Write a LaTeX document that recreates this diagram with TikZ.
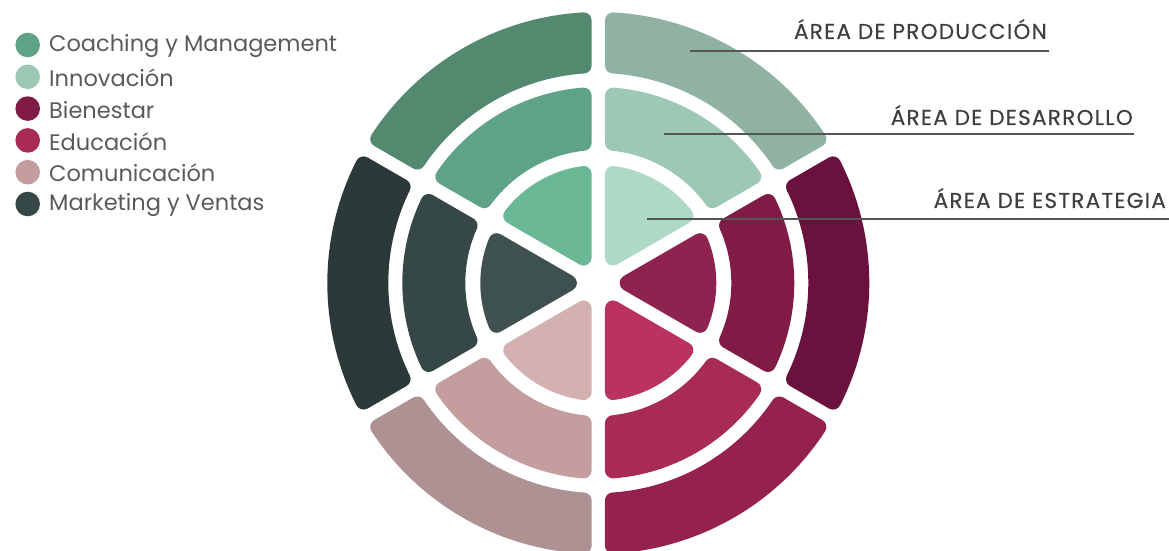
\documentclass[tikz,border=0pt]{standalone}
\usepackage{fontspec}
\setmainfont{Poppins}
\definecolor{cgA}{HTML}{6AB896}\definecolor{cgB}{HTML}{5FA386}\definecolor{cgC}{HTML}{538A6F}
\definecolor{inA}{HTML}{AED9C7}\definecolor{inB}{HTML}{9EC8B6}\definecolor{inC}{HTML}{8FB2A3}
\definecolor{biA}{HTML}{8F2350}\definecolor{biB}{HTML}{801B45}\definecolor{biC}{HTML}{6A123D}
\definecolor{edA}{HTML}{BA3262}\definecolor{edB}{HTML}{A72B53}\definecolor{edC}{HTML}{95224E}
\definecolor{coA}{HTML}{D4B1B1}\definecolor{coB}{HTML}{C49E9F}\definecolor{coC}{HTML}{AE9193}
\definecolor{mkA}{HTML}{3F514E}\definecolor{mkB}{HTML}{364846}\definecolor{mkC}{HTML}{2B3938}
\definecolor{legtext}{HTML}{5A5A5A}
\definecolor{labtext}{HTML}{3E3E3E}
\definecolor{labline}{HTML}{555555}
\begin{document}
\begin{tikzpicture}[x=1pt,y=1pt,
  piece/.style={line width=16pt, line join=round},
  legdot/.style={circle, inner sep=0pt, minimum size=24.6pt},
  legtxt/.style={anchor=west, inner sep=0pt, text=legtext, font=\fontsize{22.5}{26}\selectfont},
  areatxt/.style={anchor=base east, inner sep=0pt, text=labtext, font=\fontsize{21.5}{24}\selectfont\addfontfeatures{LetterSpace=6,FakeBold=0.4}},
  arealine/.style={draw=labline, line width=2pt}]
\useasboundingbox (0,0) rectangle (1169,551);
\def\cr{8}
\pgfmathsetmacro\dd{6.65+\cr}
\begin{scope}[shift={(598.3,268)}]
\foreach \phi/\ca/\cb/\cc in {120/cgA/cgB/cgC, 60/inA/inB/inC, 0/biA/biB/biC, -60/edA/edB/edC, -120/coA/coB/coC, 180/mkA/mkB/mkC} {
  \pgfmathsetmacro\ro{118-\cr}
  \pgfmathsetmacro\aa{\phi-30+asin(\dd/\ro)}
  \pgfmathsetmacro\ab{\phi+30-asin(\dd/\ro)}
  \pgfmathsetmacro\vv{2*\dd}
  \filldraw[piece, fill=\ca, draw=\ca] (\phi:\vv pt) -- (\aa:\ro pt) arc[start angle=\aa, end angle=\ab, radius=\ro pt] -- cycle;
  \foreach \ri/\rO/\col in {133/196/\cb, 210/271/\cc} {
    \pgfmathsetmacro\rop{\rO-\cr}
    \pgfmathsetmacro\rip{\ri+\cr}
    \pgfmathsetmacro\oa{\phi-30+asin(\dd/\rop)}
    \pgfmathsetmacro\ob{\phi+30-asin(\dd/\rop)}
    \pgfmathsetmacro\ia{\phi-30+asin(\dd/\rip)}
    \pgfmathsetmacro\ib{\phi+30-asin(\dd/\rip)}
    \filldraw[piece, fill=\col, draw=\col] (\oa:\rop pt) arc[start angle=\oa, end angle=\ob, radius=\rop pt] -- (\ib:\rip pt) arc[start angle=\ib, end angle=\ia, radius=\rip pt] -- cycle;
  }
}
\end{scope}
% legend
\foreach \i/\c/\t in {0/cgB/Coaching y Management, 1/inB/Innovación, 2/biB/Bienestar, 3/edB/Educación, 4/coB/Comunicación, 5/mkB/Marketing y Ventas} {
  \node[legdot, fill=\c] (dot\i) at (27.7, 506-31.8*\i) {};
  \node[legtxt] (leg\i) at (49, 505-31.8*\i) {\t};
}
% area labels
\node[areatxt] (prod) at (1047,512) {ÁREA DE PRODUCCIÓN};
\node[areatxt] (desa) at (1133,426) {ÁREA DE DESARROLLO};
\node[areatxt] (estr) at (1166,343) {ÁREA DE ESTRATEGIA};
\coordinate (prodA) at (690,500); \coordinate (prodB) at (1049,500);
\coordinate (desaA) at (663.5,417); \coordinate (desaB) at (1134,417);
\coordinate (estrA) at (647,332); \coordinate (estrB) at (1169,332);
\draw[arealine] (prodA) -- (prodB);
\draw[arealine] (desaA) -- (desaB);
\draw[arealine] (estrA) -- (estrB);
\end{tikzpicture}
\end{document}
